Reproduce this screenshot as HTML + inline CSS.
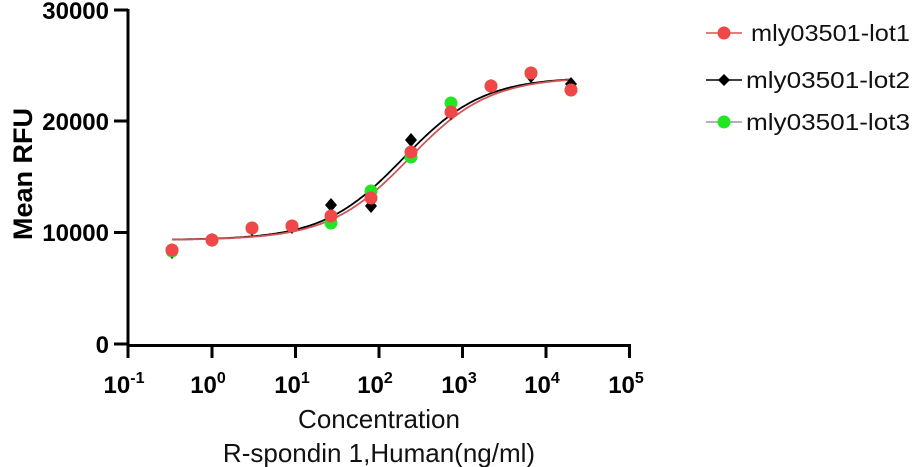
<!DOCTYPE html>
<html><head><meta charset="utf-8"><style>
html,body{margin:0;padding:0;background:#fff;width:914px;height:467px;overflow:hidden}
svg{display:block}
.t{font-family:"Liberation Sans",Arial,sans-serif;font-weight:bold;font-size:24px;fill:#000}
.l{font-family:"Liberation Sans",Arial,sans-serif;font-size:22px;fill:#111}
</style></head><body>
<svg id="s" width="914" height="467" viewBox="0 0 914 467" xmlns="http://www.w3.org/2000/svg">
<g stroke="#000" stroke-width="3" fill="none">
<path d="M128 9 V345.5 H630"/>
<path d="M114 10 H128 M114 121 H128 M114 232.5 H128 M114 344 H128"/>
<path d="M128 344 V358 M212 344 V358 M295.5 344 V358 M379 344 V358 M462.5 344 V358 M546 344 V358 M629.5 344 V358"/>
</g>
<g class="t" text-anchor="end">
<text x="109" y="19">30000</text>
<text x="109" y="130">20000</text>
<text x="109" y="241">10000</text>
<text x="109" y="353">0</text>
</g>
<g class="t" text-anchor="middle">
<text x="124" y="393">10<tspan dy="-10" font-size="16">-1</tspan></text>
<text x="208" y="393">10<tspan dy="-10" font-size="16">0</tspan></text>
<text x="292" y="393">10<tspan dy="-10" font-size="16">1</tspan></text>
<text x="375" y="393">10<tspan dy="-10" font-size="16">2</tspan></text>
<text x="459" y="393">10<tspan dy="-10" font-size="16">3</tspan></text>
<text x="542" y="393">10<tspan dy="-10" font-size="16">4</tspan></text>
<text x="626" y="393">10<tspan dy="-10" font-size="16">5</tspan></text>
</g>
<text class="t" style="font-size:27px" transform="translate(32,174) rotate(-90)" text-anchor="middle">Mean RFU</text>
<text class="l" style="font-size:26px" x="379" y="428" text-anchor="middle">Concentration</text>
<text class="l" style="font-size:26px" x="379" y="462" text-anchor="middle">R-spondin 1,Human(ng/ml)</text>
<g id="curves" fill="none"></g>
<g id="pts"></g>
<line x1="706" y1="33" x2="742" y2="33" stroke="#e05050" stroke-width="1.5"/>
<circle cx="724" cy="33" r="6.5" fill="#f04848"/>
<text class="l" style="font-size:23px" x="751" y="41" textLength="159" lengthAdjust="spacingAndGlyphs">mly03501-lot1</text>
<line x1="706" y1="80" x2="742" y2="80" stroke="#000" stroke-width="1.5"/>
<path d="M724 74 L730 80 L724 86 L718 80Z" fill="#000"/>
<text class="l" style="font-size:23px" x="746" y="88" textLength="164" lengthAdjust="spacingAndGlyphs">mly03501-lot2</text>
<line x1="706" y1="122" x2="742" y2="122" stroke="#999" stroke-width="1.5"/>
<circle cx="724" cy="122" r="6.5" fill="#22e622"/>
<text class="l" style="font-size:23px" x="746" y="130" textLength="164" lengthAdjust="spacingAndGlyphs">mly03501-lot3</text>
</svg>
<script>
var NS="http://www.w3.org/2000/svg";
function curve(x0,s,bot,top,col,w){var d="";for(var x=172;x<=571;x+=2){var y=bot-(bot-top)/(1+Math.exp(-(x-x0)/s));d+=(x==172?"M":"L")+x+" "+y.toFixed(1);}
var p=document.createElementNS(NS,"path");p.setAttribute("d",d);p.setAttribute("stroke",col);p.setAttribute("stroke-width",w);document.getElementById("curves").appendChild(p);}
curve(403,40,240,77,"#000",1.8);
curve(409,40,240,77,"#d05555",1.8);
var xs=[172,212,252,292,331,371,411,451,491,531,571];
var g=document.getElementById("pts");
function circ(x,y,c){var e=document.createElementNS(NS,"circle");e.setAttribute("cx",x);e.setAttribute("cy",y);e.setAttribute("r",6.5);e.setAttribute("fill",c);g.appendChild(e);}
function dia(x,y){var e=document.createElementNS(NS,"path");e.setAttribute("d","M"+x+" "+(y-7)+" L"+(x+6)+" "+y+" L"+x+" "+(y+7)+" L"+(x-6)+" "+y+"Z");e.setAttribute("fill","#000");g.appendChild(e);}
var l2=[252,240,229,227,205,206,140,113,86,76,84];
var l3=[251,240,228,226,223,191,157,103,86,73,90];
var l1=[250,240,228,226,216,198,152,112,86,73,90];
for(var i=0;i<11;i++)dia(xs[i],l2[i]);
for(var i=0;i<11;i++)circ(xs[i],l3[i],"#22e622");
for(var i=0;i<11;i++)circ(xs[i],l1[i],"#f04848");
</script>
</body></html>
